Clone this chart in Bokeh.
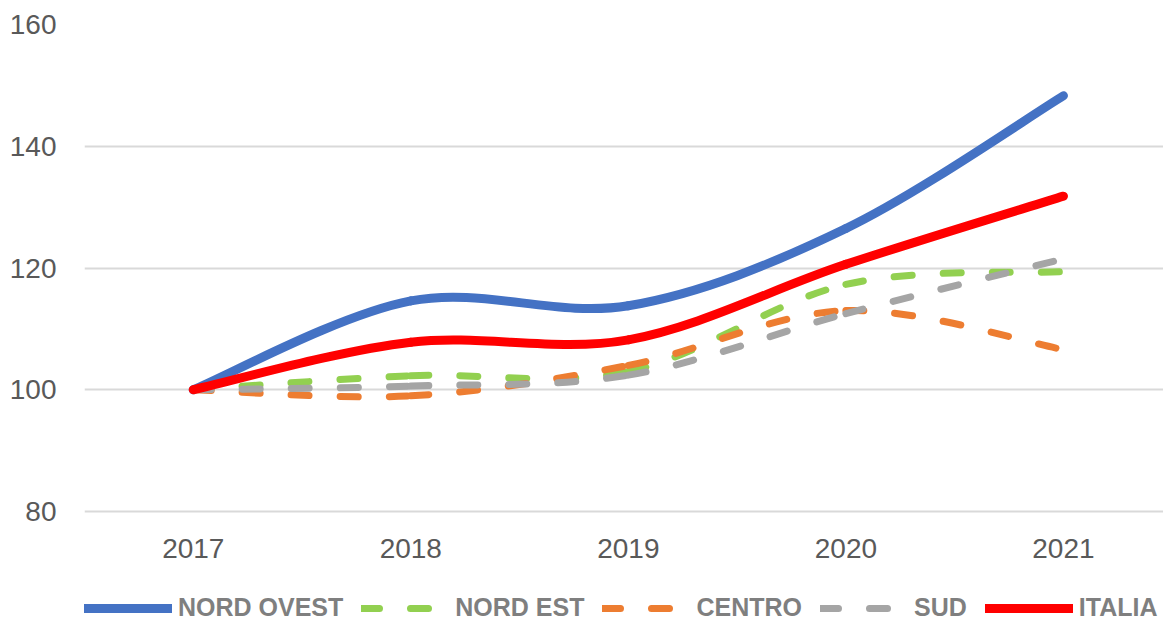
from bokeh.plotting import figure
from bokeh.models import Range1d, FixedTicker, Legend, LegendItem
from bokeh.embed import file_html
from bokeh.resources import INLINE

# ---- data ----
years = ["2017", "2018", "2019", "2020", "2021"]
nord_ovest = [100, 114.6, 113.8, 126.5, 148.3]
nord_est = [100, 102.3, 103.0, 117.3, 119.4]
centro = [100, 99.0, 104.0, 113.0, 106.6]
sud = [100, 100.6, 102.4, 112.5, 121.5]
italia = [100, 107.8, 108.2, 120.6, 131.8]
series_names = ["NORD OVEST", "NORD EST", "CENTRO", "SUD", "ITALIA"]
y_ticks = [80, 100, 120, 140, 160]

colors = ["#4472c4", "#92d050", "#ed7d31", "#a5a5a5", "#ff0000"]
widths = [9, 7, 7, 7, 9]
dashes = ["solid", "18 31", "18 31", "18 31", "solid"]

# layout (pixels)
W, H = 1163, 622
TOP, AXIS_Y = 24, 511          # pixel rows of the 160 and 80 gridlines
px_per_unit = (AXIS_Y - TOP) / (y_ticks[-1] - y_ticks[0])
y_start = y_ticks[0] - (H - AXIS_Y) / px_per_unit

p = figure(width=W, height=H, output_backend="svg", toolbar_location=None,
           x_range=Range1d(-0.5, 4.46), y_range=Range1d(y_start, y_ticks[-1]),
           min_border_left=84, min_border_right=0, min_border_top=TOP,
           min_border_bottom=0)
p.outline_line_color = None
p.background_fill_color = "white"
p.border_fill_color = "white"

xpos = list(range(len(years)))


def smooth_controls(xs, ys):
    n = len(xs)
    x0, y0, x1, y1, cx0, cy0, cx1, cy1 = [], [], [], [], [], [], [], []
    for i in range(n - 1):
        im1 = max(i - 1, 0)
        ip2 = min(i + 2, n - 1)
        x0.append(xs[i]); y0.append(ys[i])
        x1.append(xs[i + 1]); y1.append(ys[i + 1])
        cx0.append(xs[i] + (xs[i + 1] - xs[im1]) / 6.0)
        cy0.append(ys[i] + (ys[i + 1] - ys[im1]) / 6.0)
        cx1.append(xs[i + 1] - (xs[ip2] - xs[i]) / 6.0)
        cy1.append(ys[i + 1] - (ys[ip2] - ys[i]) / 6.0)
    return dict(x0=x0, y0=y0, x1=x1, y1=y1, cx0=cx0, cy0=cy0, cx1=cx1, cy1=cy1)


items = []
for name, vals, c, w, d in zip(series_names, [nord_ovest, nord_est, centro, sud, italia],
                               colors, widths, dashes):
    data = smooth_controls(xpos, vals)
    r = p.bezier(x0="x0", y0="y0", x1="x1", y1="y1", cx0="cx0", cy0="cy0",
                 cx1="cx1", cy1="cy1", source=data, line_color=c, line_width=w,
                 line_dash=d, line_cap="round", line_join="round")
    items.append(LegendItem(label=name, renderers=[r]))

# axes
p.xaxis.fixed_location = y_ticks[0]
p.xaxis.ticker = FixedTicker(ticks=xpos)
p.xaxis.major_label_overrides = {i: y for i, y in enumerate(years)}
p.yaxis.ticker = FixedTicker(ticks=y_ticks)
for ax in (p.xaxis, p.yaxis):
    ax.axis_line_color = None
    ax.major_tick_line_color = None
    ax.minor_tick_line_color = None
    ax.major_label_text_font = "Liberation Sans"
    ax.major_label_text_font_size = "28px"
    ax.major_label_text_color = "#595959"
p.xaxis.major_label_standoff = 21
p.yaxis.major_label_standoff = 22

p.xgrid.grid_line_color = None
p.ygrid.ticker = FixedTicker(ticks=y_ticks)
p.ygrid.grid_line_color = "#d9d9d9"
p.ygrid.grid_line_width = 2

legend = Legend(items=items, orientation="horizontal", location=(0, 0),
                glyph_width=88, glyph_height=16, label_height=16,
                label_standoff=6, spacing=18, padding=0, margin=0,
                border_line_color=None, background_fill_alpha=0,
                label_text_font="Liberation Sans", label_text_font_style="bold",
                label_text_font_size="25px", label_text_color="#7f7f7f")
p.add_layout(legend, "center")

open("out.html", "w").write(file_html(p, INLINE))
